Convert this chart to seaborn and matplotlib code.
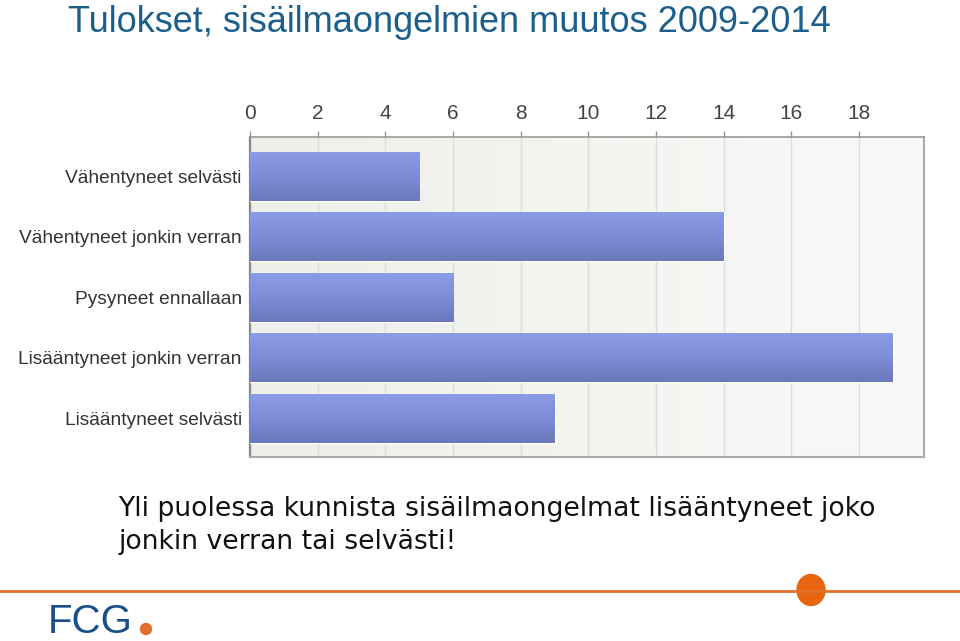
import numpy as np
import pandas as pd
import matplotlib
matplotlib.use("Agg")
import matplotlib.pyplot as plt
import seaborn as sns
from matplotlib.patches import Ellipse
from matplotlib.lines import Line2D
from matplotlib.colors import LinearSegmentedColormap

categories = ["Vähentyneet selvästi", "Vähentyneet jonkin verran", "Pysyneet ennallaan",
              "Lisääntyneet jonkin verran", "Lisääntyneet selvästi"]
values = [5, 14, 6, 19, 9]
xticks = [0, 2, 4, 6, 8, 10, 12, 14, 16, 18]
title = "Tulokset, sisäilmaongelmien muutos 2009-2014"
note_lines = ["Yli puolessa kunnista sisäilmaongelmat lisääntyneet joko",
              "jonkin verran tai selvästi!"]

sns.set_theme(style="white")
plt.rcParams['font.family'] = ['Liberation Sans', 'DejaVu Sans']

df = pd.DataFrame({"cat": categories, "val": values})

fig = plt.figure(figsize=(9.6, 6.41), dpi=100)
ax = fig.add_axes([250/960, 1-457/641, 674/960, 320/641])

# background gradient
bg = LinearSegmentedColormap.from_list("bg", ["#edefe9", "#f9faf8"])
ax.imshow(np.linspace(0, 1, 256).reshape(1, -1), cmap=bg, aspect="auto",
          extent=[0, 1, 0, 1], transform=ax.transAxes, zorder=0)

sns.barplot(data=df, x="val", y="cat", orient="h", color="#7a89d2", width=0.81,
            ax=ax, zorder=3, saturation=1)

barcmap = LinearSegmentedColormap.from_list("bar", ["#8c9be6", "#7d8cd6", "#6a78bb"])
grad = np.linspace(0, 1, 256).reshape(-1, 1)
for p in ax.patches:
    x0, y0 = p.get_x(), p.get_y()
    w, h = p.get_width(), p.get_height()
    im = ax.imshow(grad, cmap=barcmap, aspect="auto",
                   extent=[x0, x0 + w, y0 + h, y0], zorder=4)
    im.set_clip_path(p)

ax.set_xlim(0, 19.92)
ax.set_ylim(4.64, -0.65)
ax.set_xticks(xticks)
ax.xaxis.tick_top()
ax.xaxis.set_label_position("top")
ax.tick_params(axis="x", top=True, bottom=False, length=4, width=1, color="#999999",
               labelsize=15, labelcolor="#444444", pad=6)
ax.tick_params(axis="y", left=False, labelsize=13.8, labelcolor="#333333", pad=0)
ax.set_xlabel("")
ax.set_ylabel("")
ax.grid(axis="x", color="#dddddd", linewidth=1, zorder=1)
ax.set_axisbelow(True)
for s, c, lw in [("left", "#888888", 1.6), ("top", "#9a9a9a", 1.2),
                 ("right", "#aaaaaa", 1.5), ("bottom", "#aaaaaa", 1.5)]:
    ax.spines[s].set_visible(True)
    ax.spines[s].set_color(c)
    ax.spines[s].set_linewidth(lw)

fig.text(68/960, 1-32/641, title, fontsize=26, color="#1c5f8c",
         va="baseline", ha="left")
fig.text(118/960, 1-516/641, note_lines[0], fontsize=19.2, color="#111111",
         family=['DejaVu Sans'], va="baseline", ha="left")
fig.text(118/960, 1-549/641, note_lines[1], fontsize=19.2, color="#111111",
         family=['DejaVu Sans'], va="baseline", ha="left")

# footer decorations
fig.add_artist(Line2D([0, 1], [1-591/641, 1-591/641], color="#e0702a", linewidth=2,
                      transform=fig.transFigure))
fig.add_artist(Ellipse((811/960, 1-590/641), 28/960, 31/641, color="#e8650f",
                       transform=fig.transFigure))
fig.text(48/960, 0, "FCG", fontsize=29, color="#1a4f8a",
         va="bottom", ha="left")
fig.add_artist(Ellipse((146/960, 1-629/641), 11/960, 11/641, color="#e0702a",
                       transform=fig.transFigure))

fig.savefig("out.png", dpi=100)
